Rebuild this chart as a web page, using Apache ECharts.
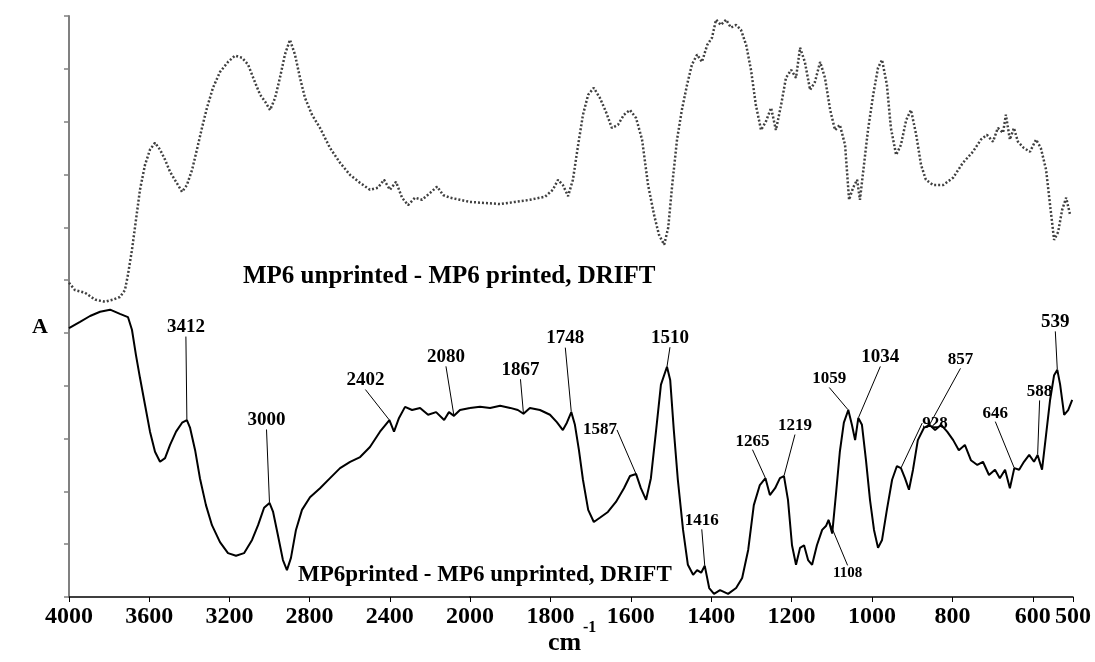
<!DOCTYPE html>
<html>
<head>
<meta charset="utf-8">
<script src="https://cdn.jsdelivr.net/npm/echarts@6/dist/echarts.min.js"></script>
<style>
html, body { margin: 0; padding: 0; background: #ffffff; }
#chart { width: 1095px; height: 662px; }
</style>
</head>
<body>
<div id="chart"></div>
<script>
// DRIFT difference spectra of MP6, wavenumber (cm-1) vs absorbance (arbitrary units)

// MP6printed - MP6 unprinted (solid trace)
const solidWn = [4000, 3945, 3895, 3845, 3795, 3746, 3706, 3686, 3666, 3646, 3621, 3596, 3571, 3546, 3521, 3496, 3466, 3436, 3412, 3396,
  3371, 3347, 3317, 3287, 3247, 3207, 3167, 3127, 3087, 3057, 3027, 3000, 2982, 2958, 2933, 2913, 2893, 2868, 2838, 2798,
  2748, 2698, 2648, 2598, 2548, 2499, 2449, 2402, 2379, 2354, 2324, 2289, 2249, 2209, 2169, 2129, 2105, 2080, 2050, 2000,
  1975, 1950, 1925, 1900, 1881, 1867, 1851, 1826, 1801, 1784, 1769, 1759, 1748, 1739, 1729, 1719, 1706, 1692, 1677, 1657,
  1637, 1617, 1602, 1587, 1575, 1562, 1550, 1537, 1525, 1510, 1502, 1493, 1483, 1470, 1458, 1445, 1435, 1425, 1416, 1405,
  1393, 1378, 1358, 1338, 1323, 1308, 1294, 1279, 1265, 1254, 1241, 1229, 1219, 1209, 1199, 1189, 1179, 1169, 1159, 1149,
  1137, 1124, 1114, 1108, 1099, 1089, 1080, 1070, 1059, 1050, 1042, 1034, 1025, 1015, 1005, 995, 985, 975, 963, 950,
  938, 928, 918, 908, 898, 886, 871, 857, 843, 828, 813, 798, 784, 769, 754, 738, 724, 709, 694, 682,
  669, 657, 646, 634, 622, 609, 597, 588, 577, 567, 557, 547, 539, 532, 522, 512, 502];
const solidAbs = [50.9, 52.1, 53.2, 54.0, 54.4, 53.6, 53.0, 50.6, 45.8, 41.5, 36.4, 31.3, 27.5, 25.6, 26.3, 28.8, 31.3, 33.0, 33.5, 32.0,
  27.8, 22.5, 17.4, 13.6, 10.4, 8.3, 7.8, 8.3, 10.8, 13.6, 16.9, 17.8, 16.1, 11.7, 7.0, 5.1, 7.4, 12.7, 16.5, 18.9,
  20.6, 22.5, 24.4, 25.6, 26.5, 28.4, 31.3, 33.5, 31.3, 33.9, 36.0, 35.4, 35.8, 34.5, 35.0, 33.5, 35.0, 34.3, 35.4, 35.8,
  36.0, 35.8, 36.2, 35.8, 35.4, 34.7, 35.8, 35.4, 34.5, 33.1, 31.6, 33.0, 35.0, 32.6, 27.8, 22.2, 16.5, 14.2, 15.0, 16.1,
  18.0, 20.6, 22.9, 23.3, 20.6, 18.4, 22.5, 31.6, 40.2, 43.6, 41.1, 31.6, 22.2, 12.7, 6.1, 4.2, 5.1, 4.6, 5.9, 1.7,
  0.6, 1.3, 0.6, 1.7, 3.6, 8.9, 17.4, 21.2, 22.5, 19.3, 20.6, 22.5, 22.9, 18.4, 9.8, 6.1, 9.3, 9.8, 7.0, 6.1,
  9.8, 12.7, 13.5, 14.6, 12.0, 20.0, 27.5, 33.0, 35.4, 32.6, 29.7, 33.9, 32.6, 25.9, 18.4, 12.7, 9.3, 10.8, 16.5, 22.2,
  24.8, 24.4, 22.5, 20.3, 24.1, 29.7, 32.0, 32.6, 31.6, 32.6, 31.3, 29.7, 27.8, 28.8, 25.9, 25.0, 25.6, 23.1, 24.1, 22.5,
  24.1, 20.6, 24.4, 24.1, 25.6, 26.9, 25.6, 26.9, 24.1, 30.7, 37.3, 42.0, 43.0, 40.2, 34.5, 35.4, 37.3];

// MP6 unprinted - MP6 printed (dotted trace)
const dottedWn = [4000, 3970, 3920, 3870, 3820, 3781, 3746, 3721, 3706, 3686, 3666, 3646, 3621, 3596, 3571, 3546, 3521, 3496, 3466, 3436,
  3412, 3386, 3362, 3337, 3312, 3282, 3247, 3207, 3172, 3137, 3107, 3077, 3047, 3022, 2997, 2972, 2948, 2923, 2898, 2873,
  2848, 2823, 2788, 2748, 2698, 2648, 2598, 2548, 2499, 2459, 2429, 2399, 2369, 2339, 2309, 2274, 2239, 2199, 2164, 2134,
  2100, 2050, 2000, 1963, 1925, 1888, 1851, 1813, 1794, 1781, 1769, 1756, 1744, 1731, 1719, 1706, 1692, 1677, 1662, 1647,
  1632, 1617, 1602, 1587, 1572, 1557, 1542, 1530, 1517, 1507, 1497, 1485, 1473, 1460, 1448, 1435, 1423, 1410, 1398, 1388,
  1376, 1363, 1351, 1338, 1326, 1313, 1301, 1289, 1276, 1264, 1251, 1239, 1226, 1214, 1201, 1189, 1179, 1167, 1154, 1142,
  1129, 1117, 1104, 1092, 1080, 1067, 1057, 1047, 1037, 1030, 1020, 1010, 997, 985, 975, 963, 953, 940, 928, 915,
  903, 890, 878, 866, 848, 823, 798, 774, 749, 729, 714, 699, 687, 674, 667, 657, 647, 637, 622, 607,
  592, 580, 567, 557, 547, 537, 527, 517, 507];
const dottedAbs = [59.5, 58.1, 57.6, 56.3, 55.9, 56.3, 56.8, 58.1, 61.0, 65.7, 71.4, 77.1, 81.8, 84.7, 86.0, 84.7, 82.8, 80.5, 78.6, 76.7,
  78.0, 80.9, 84.7, 88.8, 92.6, 96.4, 99.4, 101.3, 102.5, 102.1, 100.8, 97.9, 95.1, 93.8, 92.2, 94.5, 98.3, 102.7, 105.5, 102.7,
  98.3, 94.5, 91.3, 88.8, 85.0, 82.2, 79.9, 78.4, 77.1, 77.5, 79.0, 77.1, 78.6, 75.6, 74.2, 75.6, 75.2, 76.5, 77.7, 76.1,
  75.6, 75.2, 74.8, 74.6, 74.4, 74.8, 75.2, 75.8, 77.1, 79.0, 78.0, 75.9, 79.0, 85.6, 91.3, 95.1, 96.4, 94.5, 91.9, 88.8,
  89.4, 91.3, 92.2, 90.7, 86.6, 78.0, 72.3, 68.6, 66.7, 69.9, 78.0, 86.6, 92.2, 97.0, 100.8, 102.7, 101.3, 104.5, 105.9, 109.3,
  108.3, 109.3, 107.8, 108.3, 107.4, 104.5, 99.8, 93.2, 88.4, 90.0, 92.6, 88.4, 93.2, 98.3, 99.8, 98.3, 104.0, 101.3, 96.0, 97.5,
  101.3, 98.3, 92.2, 88.4, 89.4, 85.6, 75.2, 77.5, 79.0, 75.2, 81.8, 88.4, 95.1, 100.2, 101.7, 97.0, 88.8, 83.7, 85.6, 90.3,
  92.2, 87.5, 81.8, 79.0, 78.0, 78.0, 79.4, 82.2, 84.3, 86.6, 87.5, 86.2, 88.8, 87.9, 91.3, 86.6, 88.8, 86.2, 85.0, 84.3,
  86.6, 85.0, 80.9, 74.2, 67.6, 69.1, 73.3, 75.6, 72.3];

// Assigned band positions (cm-1) marked on the solid trace
const peakWn = [3412, 3000, 2402, 2080, 1867, 1748, 1587, 1510, 1416, 1265, 1219, 1108, 1059, 1034, 928, 857, 646, 588, 539];

// Axis tick labels
const highTicks = [4000, 3600, 3200, 2800, 2400, 2000];
const lowTicks = [1800, 1600, 1400, 1200, 1000, 800, 600, 500];

// Label placement relative to each marked band (pixels): [dx, dy], font size
const peakLabelLayout = [
  [-1, -93, 19], [-3, -83, 19], [-24, -40, 19], [-8, -59, 19], [-3, -44, 19], [-6, -74, 19], [-36, -44, 17],
  [3, -29, 19], [-3, -45, 17], [-13, -37, 17], [11, -50, 17], [19, 53, 15], [-19, -31, 17], [22, -61, 19],
  [34, -45, 17], [31, -65, 17], [-19, -55, 17], [2, -63, 17], [-2, -48, 19]
];

const SPLIT = 2000;
const FONT = '"Liberation Serif", "DejaVu Serif", serif';

function pairs(wn, ab, test) {
  const out = [];
  for (let i = 0; i < wn.length; i++) if (test(wn[i])) out.push([wn[i], ab[i]]);
  return out;
}
const isHigh = w => w >= SPLIT;
const isLow = w => w <= SPLIT;

const peakAbs = peakWn.map(w => solidAbs[solidWn.indexOf(w)]);

function peakSeries(axisIndex, test) {
  const idx = [];
  peakWn.forEach((w, i) => { if (test(w)) idx.push(i); });
  return {
    type: 'scatter',
    xAxisIndex: axisIndex,
    yAxisIndex: axisIndex,
    symbolSize: 1,
    itemStyle: { color: '#000', opacity: 1 },
    silent: true,
    z: 5,
    data: idx.map(i => ({
      value: [peakWn[i], peakAbs[i]],
      label: { fontSize: peakLabelLayout[i][2] }
    })),
    label: {
      show: true,
      position: 'inside',
      formatter: p => String(p.value[0]),
      color: '#000',
      opacity: 1,
      textBorderWidth: 0,
      fontFamily: FONT,
      fontWeight: 'bold'
    },
    labelLine: { show: true, lineStyle: { color: '#000', width: 1, opacity: 1 } },
    labelLayout: p => {
      const L = peakLabelLayout[idx[p.dataIndex]];
      return { dx: L[0], dy: L[1] };
    }
  };
}

const axisLabelStyle = {
  color: '#000', fontFamily: FONT, fontWeight: 'bold', fontSize: 24, margin: 8,
  formatter: v => String(v)
};

const chart = echarts.init(document.getElementById('chart'), null, { renderer: 'canvas' });
chart.setOption({
  animation: false,
  backgroundColor: '#ffffff',
  textStyle: { fontFamily: FONT },
  grid: [
    { left: 69, top: 16, width: 401, bottom: 65 },
    { left: 470, top: 16, width: 603, bottom: 65 }
  ],
  xAxis: [
    {
      gridIndex: 0, type: 'value', inverse: true, min: 2000, max: 4000, interval: 400,
      axisLine: { lineStyle: { color: '#000', width: 1.5 } },
      axisTick: { show: true, length: 5, lineStyle: { color: '#000', width: 1 },
        customValues: highTicks },
      axisLabel: Object.assign({ showMinLabel: true, showMaxLabel: true, customValues: highTicks }, axisLabelStyle),
      splitLine: { show: false }
    },
    {
      gridIndex: 1, type: 'value', inverse: true, min: 500, max: 2000,
      axisLine: { lineStyle: { color: '#000', width: 1.5 } },
      axisTick: { show: true, length: 5, lineStyle: { color: '#000', width: 1 },
        customValues: lowTicks },
      axisLabel: Object.assign({ customValues: lowTicks }, axisLabelStyle),
      splitLine: { show: false }
    }
  ],
  yAxis: [
    {
      gridIndex: 0, type: 'value', min: 0, max: 110, interval: 10,
      axisLine: { show: true, lineStyle: { color: '#808080', width: 2 } },
      axisTick: { show: true, length: 5, lineStyle: { color: '#808080', width: 1.5 } },
      axisLabel: { show: false },
      splitLine: { show: false }
    },
    {
      gridIndex: 1, type: 'value', min: 0, max: 110, show: false,
      splitLine: { show: false }
    }
  ],
  series: [
    {
      type: 'line', xAxisIndex: 0, yAxisIndex: 0, showSymbol: false, silent: true,
      data: pairs(dottedWn, dottedAbs, isHigh),
      lineStyle: { color: '#404040', width: 2.5, type: [2, 2] }
    },
    {
      type: 'line', xAxisIndex: 1, yAxisIndex: 1, showSymbol: false, silent: true,
      data: pairs(dottedWn, dottedAbs, isLow),
      lineStyle: { color: '#404040', width: 2.5, type: [2, 2] }
    },
    {
      type: 'line', xAxisIndex: 0, yAxisIndex: 0, showSymbol: false, silent: true,
      data: pairs(solidWn, solidAbs, isHigh),
      lineStyle: { color: '#000', width: 2 }
    },
    {
      type: 'line', xAxisIndex: 1, yAxisIndex: 1, showSymbol: false, silent: true,
      data: pairs(solidWn, solidAbs, isLow),
      lineStyle: { color: '#000', width: 2 }
    },
    peakSeries(0, w => w > SPLIT),
    peakSeries(1, w => w < SPLIT)
  ],
  graphic: [
    { type: 'text', left: 32, top: 316, style: { text: 'A', font: 'bold 22px ' + FONT, fill: '#000' } },
    { type: 'text', left: 243, top: 264, style: { text: 'MP6 unprinted - MP6 printed, DRIFT', font: 'bold 25px ' + FONT, fill: '#000' } },
    { type: 'text', left: 298, top: 564, style: { text: 'MP6printed - MP6 unprinted, DRIFT', font: 'bold 23px ' + FONT, fill: '#000' } },
    { type: 'text', left: 548, top: 630, style: { text: 'cm', font: 'bold 26px ' + FONT, fill: '#000' } },
    { type: 'text', left: 583, top: 620, style: { text: '-1', font: 'bold 16px ' + FONT, fill: '#000' } }
  ]
});
</script>
</body>
</html>
